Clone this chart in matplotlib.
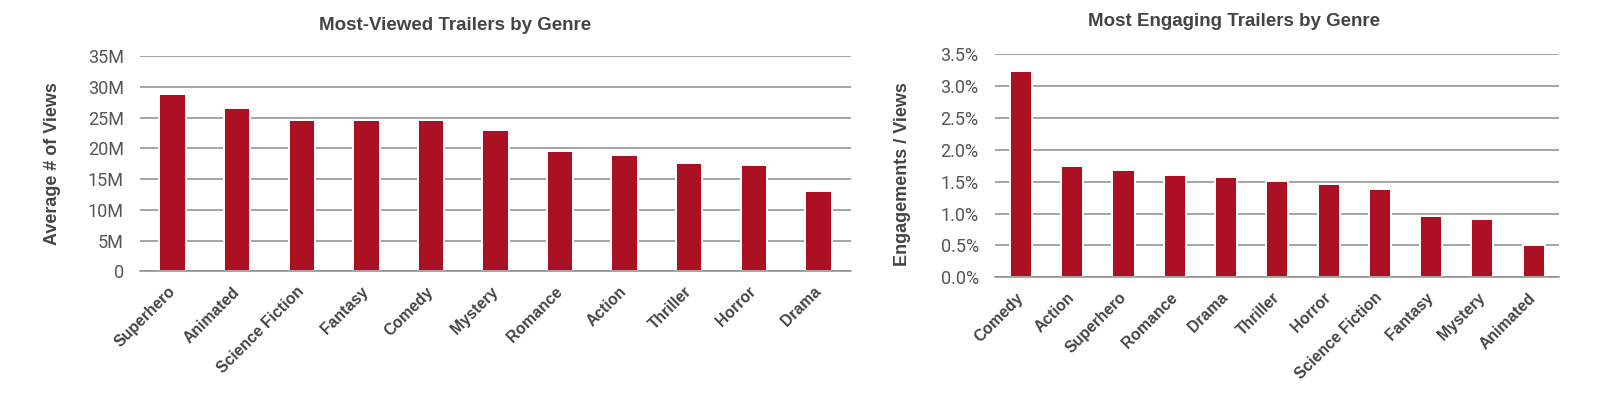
import matplotlib
matplotlib.use("Agg")
import matplotlib.pyplot as plt
from matplotlib.ticker import FuncFormatter, PercentFormatter, MultipleLocator

# views chart
view_genres = ["Superhero", "Animated", "Science Fiction", "Fantasy", "Comedy", "Mystery",
               "Romance", "Action", "Thriller", "Horror", "Drama"]
view_values = [28.9e6, 26.6e6, 24.6e6, 24.6e6, 24.6e6, 23.0e6,
               19.6e6, 18.9e6, 17.6e6, 17.3e6, 13.1e6]

# engagement chart
eng_genres = ["Comedy", "Action", "Superhero", "Romance", "Drama", "Thriller",
              "Horror", "Science Fiction", "Fantasy", "Mystery", "Animated"]
eng_values = [0.0324, 0.0175, 0.0168, 0.0161, 0.0157, 0.0151,
              0.0146, 0.0139, 0.0096, 0.0092, 0.0051]

bar_color = "#ac1123"
grid_color = "#8c8c8c"
W, H = 1619, 394

fig = plt.figure(figsize=(W / 100, H / 100), dpi=100)

def px_axes(x0, x1, ytop, ybot):
    return fig.add_axes([x0 / W, 1 - ybot / H, (x1 - x0) / W, (ybot - ytop) / H])

ax1 = px_axes(140.3, 850.7, 56.3, 271.3)
ax2 = px_axes(995.3, 1559.3, 54.3, 277.3)

label_font = dict(family=["Liberation Sans", "DejaVu Sans"], weight="bold")


def style(ax, genres, values, width, ymax, step, fmt):
    ax.bar(genres, values, width=width, color=bar_color, edgecolor="white", linewidth=1.4)
    ax.set_xlim(-0.5, len(genres) - 0.5)
    ax.set_ylim(0, ymax)
    ax.yaxis.set_major_locator(MultipleLocator(step))
    ax.yaxis.set_major_formatter(fmt)
    ax.set_axisbelow(True)
    ax.yaxis.grid(True, color=grid_color, linewidth=1.1)
    for s in ["top", "left", "right"]:
        ax.spines[s].set_visible(False)
    ax.spines["bottom"].set_color(grid_color)
    ax.spines["bottom"].set_linewidth(1.1)
    ax.tick_params(axis="both", length=0)
    ax.tick_params(axis="y", pad=12)
    ax.tick_params(axis="x", pad=13)
    for t in ax.get_yticklabels():
        t.set_fontsize(13)
        t.set_color("#555555")
        t.set_fontfamily(["Roboto", "Liberation Sans", "DejaVu Sans"])
        t.set_fontweight("normal")
    for t in ax.get_xticklabels():
        t.set_rotation(45)
        t.set_ha("right")
        t.set_va("center")
        t.set_rotation_mode("anchor")
        t.set_fontsize(11.3)
        t.set_color("#444444")
        t.set_fontfamily(label_font["family"])
        t.set_fontweight("bold")


style(ax1, view_genres, view_values, 0.41, 35e6, 5e6,
      FuncFormatter(lambda v, p: "0" if v == 0 else f"{v / 1e6:.0f}M"))
style(ax2, eng_genres, eng_values, 0.43, 0.035, 0.005, PercentFormatter(xmax=1, decimals=1))

ax1.set_ylabel("Average # of Views", fontsize=13, color="#444444", ha="center", va="center", **label_font)
ax1.yaxis.set_label_coords(-0.1229, 0.501)
ax2.set_ylabel("Engagements / Views", fontsize=13, color="#444444", ha="center", va="center", **label_font)
ax2.yaxis.set_label_coords(-0.1654, 0.465)

fig.text(455 / W, 1 - 25 / H, "Most-Viewed Trailers by Genre", ha="center", va="center",
         fontsize=13.5, color="#444444", **label_font)
fig.text(1233.5 / W, 1 - 21 / H, "Most Engaging Trailers by Genre", ha="center", va="center",
         fontsize=13.5, color="#444444", **label_font)

fig.savefig("out.png", dpi=100, facecolor="white")
